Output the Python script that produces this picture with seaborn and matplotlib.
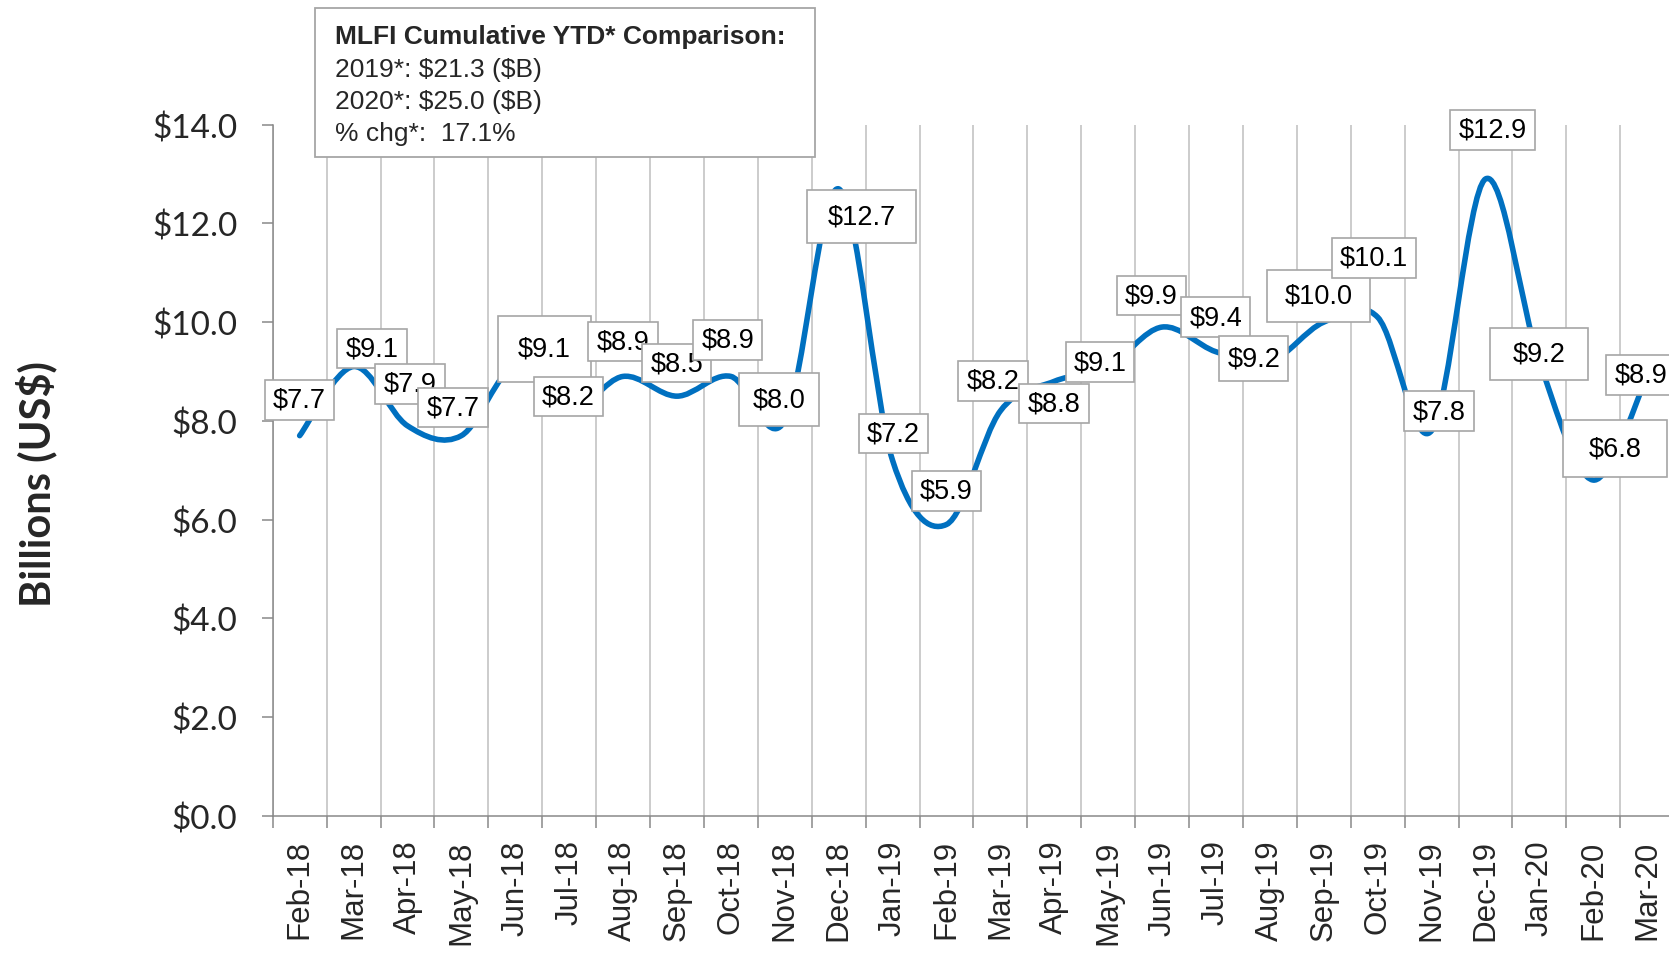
import numpy as np
import matplotlib
matplotlib.use("Agg")
import matplotlib.pyplot as plt
import seaborn as sns
import pandas as pd
from matplotlib.path import Path
from matplotlib.patches import PathPatch, Rectangle
from matplotlib.transforms import Affine2D, ScaledTranslation

# ---------------- data ----------------
months = ["Feb-18", "Mar-18", "Apr-18", "May-18", "Jun-18", "Jul-18", "Aug-18",
          "Sep-18", "Oct-18", "Nov-18", "Dec-18", "Jan-19", "Feb-19", "Mar-19",
          "Apr-19", "May-19", "Jun-19", "Jul-19", "Aug-19", "Sep-19", "Oct-19",
          "Nov-19", "Dec-19", "Jan-20", "Feb-20", "Mar-20"]
volume = [7.7, 9.1, 7.9, 7.7, 9.1, 8.2, 8.9, 8.5, 8.9, 8.0, 12.7, 7.2, 5.9, 8.2,
          8.8, 9.1, 9.9, 9.4, 9.2, 10.0, 10.1, 7.8, 12.9, 9.2, 6.8, 8.9]
y_ticks = [0, 2, 4, 6, 8, 10, 12, 14]
summary_title = "MLFI Cumulative YTD* Comparison:"
summary_lines = ["2019*: $21.3 ($B)", "2020*: $25.0 ($B)", "% chg*:  17.1%"]
y_title = "Billions (US$)"

# ---------------- label layout (offsets from the point, box sizes in px) ----------------
label_dx = [0.0, 0.34, 0.05, -0.15, 0.54, -0.01, 0.0, 0.0, -0.06, -0.11, 0.43, 0.01, 0.0,
            -0.14, 0.0, -0.15, -0.2, 0.0, -0.30, -0.10, -0.07, 0.14, 0.13, 0.0, 0.40, -0.11]
label_dy = [0.73, 0.37, 0.85, 0.57, 0.36, 0.29, 0.70, 0.67, 0.74, 0.43, -0.57, 0.54, 0.68,
            0.61, -0.45, 0.09, 0.64, 0.70, 0.07, 0.53, 1.20, 0.39, 1.00, 0.16, 0.64, 0.03]
box_w = [69, 70, 70, 70, 93, 69, 70, 69, 69, 80, 109, 69, 69, 70, 70, 68, 69, 69, 69, 103,
         84, 70, 85, 98, 104, 70]
box_h = [40, 39, 40, 39, 66, 39, 39, 38, 40, 53, 53, 39, 40, 40, 39, 40, 39, 40, 45, 52,
         40, 40, 40, 52, 57, 40]

LINE_BLUE = "#0070C0"
GRID = "#BFBFBF"
AXIS = "#898989"
BOXEDGE = "#A6A6A6"

sns.set_style("white")
plt.rcParams["font.family"] = ["Liberation Sans", "DejaVu Sans"]

W, H, DPI = 1669, 954, 100
fig = plt.figure(figsize=(W / DPI, H / DPI), dpi=DPI)
fig.patch.set_facecolor("white")

ax_left, ax_bottom, ax_top = 272.7, 816.7, 125.7
cat_w = 53.9
n = len(months)
ax = fig.add_axes([ax_left / W, 1 - ax_bottom / H, n * cat_w / W, (ax_bottom - ax_top) / H])

df = pd.DataFrame({"pos": np.arange(n), "volume": volume, "month": months})
sns.lineplot(data=df, x="pos", y="volume", ax=ax, color=LINE_BLUE)
base_line = ax.lines[0]
base_line.set_visible(False)

# Excel-style smoothed line: cubic Bezier through the data points (Catmull-Rom control points)
P = df[["pos", "volume"]].to_numpy(dtype=float)
Pm = np.vstack([P[0], P, P[-1]])
verts = [P[0]]
codes = [Path.MOVETO]
for i in range(n - 1):
    c1 = P[i] + (Pm[i + 2] - Pm[i]) / 6.0
    c2 = P[i + 1] - (Pm[i + 3] - Pm[i + 1]) / 6.0
    verts += [c1, c2, P[i + 1]]
    codes += [Path.CURVE4] * 3
ax.add_patch(PathPatch(Path(verts, codes), facecolor="none", edgecolor=LINE_BLUE,
                       lw=4.0, capstyle="round", joinstyle="round", zorder=3))

ax.set_xlim(-0.5, n - 0.5)
ax.set_ylim(0, 14)

# category boundaries carry ticks + gridlines; labels sit at category centres
ax.set_xticks(np.arange(-0.5, n, 1.0))
ax.set_xticklabels([])
ax.set_xticks(np.arange(n), minor=True)
ax.set_xticklabels(months, minor=True, rotation=90, fontsize=22.5,
                   family=["Liberation Sans", "DejaVu Sans"])
ax.tick_params(axis="x", which="major", direction="out", length=8.5, width=1.1,
               color=AXIS, bottom=True)
ax.tick_params(axis="x", which="minor", length=0, pad=17, bottom=True)
ax.grid(axis="x", which="major", color=GRID, lw=1.1)
ax.grid(axis="y", visible=False)

ax.set_yticks(y_ticks)
ax.set_yticklabels([f"${v:.1f}" for v in y_ticks], fontsize=24,
                   family=["Lato", "DejaVu Sans"])
ax.tick_params(axis="y", direction="out", length=8, width=1.1, color=AXIS, pad=17.5,
               left=True)
ax.set_xlabel("")
ax.set_ylabel("")

for s in ["top", "right"]:
    ax.spines[s].set_visible(False)
for s in ["left", "bottom"]:
    ax.spines[s].set_color(AXIS)
    ax.spines[s].set_linewidth(1.1)
    ax.spines[s].set_zorder(2.5)

# data labels
for i, v in enumerate(volume):
    xc = i + label_dx[i]
    yc = v + label_dy[i]
    tr = Affine2D() + ScaledTranslation(xc, yc, ax.transData)
    ax.add_patch(Rectangle((-box_w[i] / 2, -box_h[i] / 2), box_w[i], box_h[i],
                           transform=tr, facecolor="white", edgecolor=BOXEDGE,
                           lw=1.2, zorder=4 + i * 0.01, clip_on=False))
    ax.text(xc, yc, f"${v:.1f}", ha="center", va="center", fontsize=19.5,
            color="black", zorder=4.005 + i * 0.01, clip_on=False, parse_math=False)

# y axis title
fig.text(36 / W, 1 - 484 / H, y_title, rotation=90, ha="center", va="center",
         fontsize=30, fontweight="bold", family=["Lato", "DejaVu Sans"], parse_math=False)

# summary box
fig.patches.append(Rectangle((315 / W, 1 - 158 / H), 500 / W, 149 / H,
                             transform=fig.transFigure, facecolor="white",
                             edgecolor=BOXEDGE, lw=1.3, zorder=5))
fig.text(335 / W, 1 - 44 / H, summary_title, ha="left", va="baseline",
         fontsize=19, fontweight="bold", zorder=6, parse_math=False)
for k, line in enumerate(summary_lines):
    fig.text(335 / W, 1 - (77 + 32 * k) / H, line, ha="left", va="baseline",
             fontsize=19, zorder=6, parse_math=False)

fig.savefig("out.png", dpi=DPI, facecolor="white")
